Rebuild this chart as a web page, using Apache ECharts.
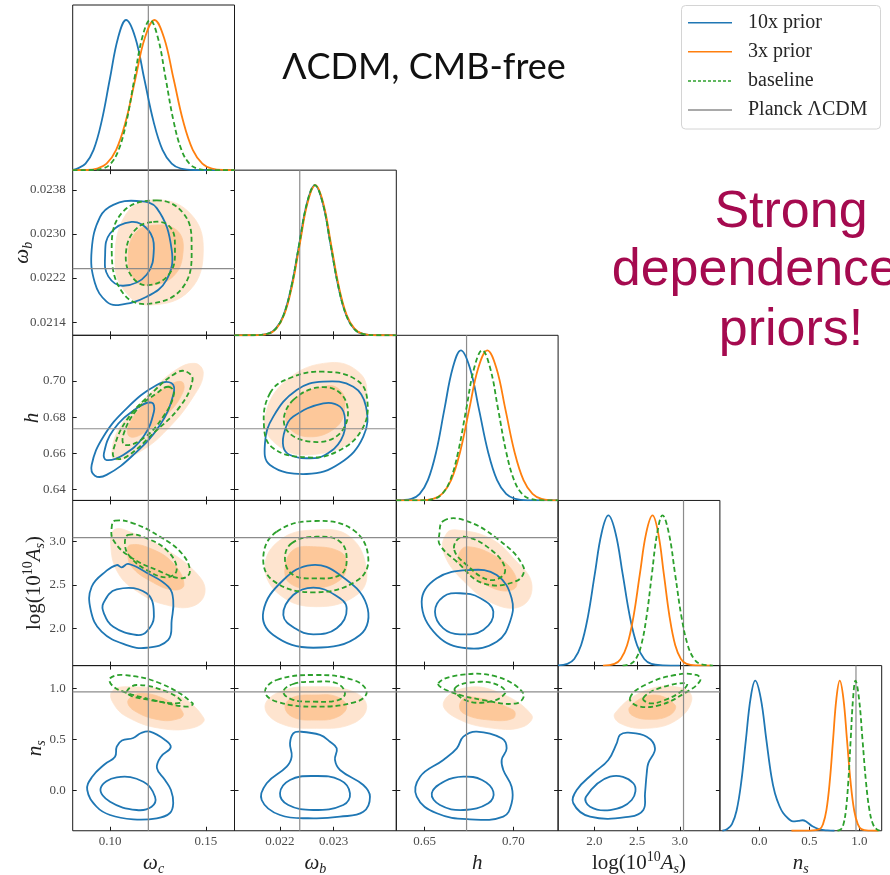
<!DOCTYPE html>
<html>
<head>
<meta charset="utf-8">
<script src="https://cdn.jsdelivr.net/npm/echarts@6/dist/echarts.min.js"></script>
<style>
  html, body { margin: 0; padding: 0; background: #ffffff; }
  #chart { width: 890px; height: 875px; }
</style>
</head>
<body>
<div id="chart"></div>
<script>
// ---------------- parameters ----------------
const keys = ['wc', 'wb', 'h', 'As', 'ns'];
const ranges = { wc: [0.0805, 0.165], wb: [0.02116, 0.02416], h: [0.634, 0.7252], As: [1.575, 3.47], ns: [-0.395, 1.222] };
const xTicks = { wc: [0.10, 0.15], wb: [0.022, 0.023], h: [0.65, 0.70], As: [2.0, 2.5, 3.0], ns: [0.0, 0.5, 1.0] };
const yTicks = { wb: [0.0214, 0.0222, 0.0230, 0.0238], h: [0.64, 0.66, 0.68, 0.70], As: [2.0, 2.5, 3.0], ns: [0.0, 0.5, 1.0] };
const xDecimals = { wc: 2, wb: 3, h: 2, As: 1, ns: 1 };
const yDecimals = { wb: 4, h: 2, As: 1, ns: 1 };
const planck = { wc: 0.1200, wb: 0.02237, h: 0.6736, As: 3.044, ns: 0.9649 };
const legendLabels = ['10x prior', '3x prior', 'baseline', 'Planck \u039BCDM'];

// ---------------- 1D marginals [value, normalised density] ----------------
const wc10x = [[0.0805,0.001],[0.0829,0.011],[0.0872,0.044],[0.0914,0.135],[0.0956,0.325],[0.0999,0.607],[0.1042,0.882],[0.1084,1],[0.1132,0.882],[0.1179,0.607],[0.1227,0.325],[0.1274,0.135],[0.1322,0.044],[0.1369,0.011],[0.1445,0.001],[0.165,0]];
const wc3x = [[0.0805,0],[0.0880,0.001],[0.0932,0.011],[0.0982,0.044],[0.1032,0.135],[0.1082,0.325],[0.1132,0.607],[0.1182,0.882],[0.1232,1],[0.1282,0.882],[0.1332,0.607],[0.1382,0.325],[0.1432,0.135],[0.1482,0.044],[0.1532,0.011],[0.1600,0.001],[0.165,0]];
const wcBase = [[0.0805,0],[0.0900,0.001],[0.0963,0.011],[0.1004,0.044],[0.1045,0.135],[0.1086,0.325],[0.1127,0.607],[0.1168,0.882],[0.1209,1],[0.1250,0.882],[0.1291,0.607],[0.1332,0.325],[0.1373,0.135],[0.1414,0.044],[0.1455,0.011],[0.1510,0.001],[0.165,0]];

const wb10x = [[0.02116,0],[0.02149,0.0004],[0.02178,0.011],[0.021925,0.044],[0.02207,0.135],[0.022215,0.325],[0.02236,0.607],[0.022505,0.882],[0.02265,1],[0.022795,0.882],[0.02294,0.607],[0.023085,0.325],[0.02323,0.135],[0.023375,0.044],[0.02352,0.011],[0.02381,0.0004],[0.02416,0]];
const wb3x = [[0.02116,0],[0.02150,0.0004],[0.02179,0.011],[0.021935,0.044],[0.02208,0.135],[0.022225,0.325],[0.02237,0.607],[0.022515,0.882],[0.02266,1],[0.022805,0.882],[0.02295,0.607],[0.023095,0.325],[0.02324,0.135],[0.023385,0.044],[0.02353,0.011],[0.02382,0.0004],[0.02416,0]];
const wbBase = [[0.02116,0],[0.02149,0.0004],[0.02178,0.011],[0.021925,0.044],[0.02207,0.135],[0.022215,0.325],[0.02236,0.607],[0.022505,0.882],[0.02265,1],[0.022795,0.882],[0.02294,0.607],[0.023085,0.325],[0.02323,0.135],[0.023375,0.044],[0.02352,0.011],[0.02381,0.0004],[0.02416,0]];

const h10x = [[0.634,0.001],[0.6425,0.011],[0.6472,0.044],[0.6518,0.135],[0.6565,0.325],[0.6611,0.607],[0.6658,0.882],[0.6704,1],[0.6755,0.882],[0.6806,0.607],[0.6857,0.325],[0.6908,0.135],[0.6959,0.044],[0.7010,0.011],[0.7080,0.001],[0.7252,0]];
const h3x = [[0.634,0],[0.6470,0.001],[0.6547,0.011],[0.6598,0.044],[0.6649,0.135],[0.6700,0.325],[0.6751,0.607],[0.6802,0.882],[0.6853,1],[0.6904,0.882],[0.6955,0.607],[0.7006,0.325],[0.7057,0.135],[0.7108,0.044],[0.7159,0.011],[0.7252,0.0005]];
const hBase = [[0.634,0],[0.6480,0.001],[0.6554,0.011],[0.6599,0.044],[0.6644,0.135],[0.6689,0.325],[0.6734,0.607],[0.6779,0.882],[0.6824,1],[0.6869,0.882],[0.6914,0.607],[0.6959,0.325],[0.7004,0.135],[0.7049,0.044],[0.7094,0.011],[0.7170,0.001],[0.7252,0]];

const As10x = [[1.575,0.001],[1.684,0.011],[1.764,0.044],[1.844,0.135],[1.924,0.325],[2.004,0.607],[2.084,0.882],[2.164,1],[2.248,0.882],[2.332,0.607],[2.416,0.325],[2.500,0.135],[2.584,0.044],[2.668,0.011],[2.80,0.002],[3.0,0]];
const As3x = [[2.10,0],[2.234,0.011],[2.3085,0.044],[2.383,0.135],[2.4575,0.325],[2.532,0.607],[2.6065,0.882],[2.681,1],[2.7475,0.882],[2.814,0.607],[2.8805,0.325],[2.947,0.135],[3.0135,0.044],[3.080,0.011],[3.20,0.001],[3.37,0]];
const AsBase = [[2.33,0],[2.423,0.011],[2.4855,0.044],[2.548,0.135],[2.6105,0.325],[2.673,0.607],[2.7355,0.882],[2.798,1],[2.872,0.882],[2.946,0.607],[3.020,0.325],[3.094,0.135],[3.168,0.044],[3.242,0.011],[3.39,0]];

const ns10x = [[-0.37,0],[-0.321,0.011],[-0.2745,0.044],[-0.228,0.135],[-0.1815,0.325],[-0.135,0.607],[-0.0885,0.882],[-0.042,1],[0.0135,0.882],[0.069,0.607],[0.12,0.36],[0.155,0.25],[0.20,0.165],[0.237,0.118],[0.29,0.08],[0.335,0.062],[0.39,0.066],[0.43,0.07],[0.47,0.06],[0.53,0.03],[0.60,0.01],[0.68,0.002],[0.75,0]];
const ns3x = [[0.32,0],[0.50,0.001],[0.602,0.011],[0.6355,0.044],[0.669,0.135],[0.7025,0.325],[0.736,0.607],[0.7695,0.882],[0.803,1],[0.839,0.882],[0.875,0.607],[0.911,0.325],[0.947,0.135],[0.983,0.044],[1.019,0.011],[1.10,0.001],[1.19,0]];
const nsBase = [[0.78,0],[0.816,0.011],[0.840,0.044],[0.864,0.135],[0.888,0.325],[0.912,0.607],[0.936,0.882],[0.960,1],[0.995,0.882],[1.030,0.607],[1.065,0.325],[1.100,0.135],[1.135,0.044],[1.170,0.011],[1.20,0.002]];

// ---------------- 2D contours: [outer (95%), inner (68%)] outlines ----------------
const wcWb10x = [
  [[0.1139,0.02360],[0.1244,0.02347],[0.1322,0.02271],[0.1296,0.02217],[0.1191,0.02186],[0.1043,0.02171],[0.0982,0.02177],[0.0921,0.02211],[0.0904,0.02271],[0.0948,0.02331],[0.1017,0.02353]],
  [[0.1113,0.02322],[0.1200,0.02307],[0.1229,0.02274],[0.1191,0.02226],[0.1069,0.02206],[0.0991,0.02223],[0.0974,0.02259],[0.1000,0.02301]]
];
const wcWb3x = [
  [[0.1244,0.02362],[0.1417,0.02338],[0.1487,0.02274],[0.1417,0.02198],[0.1209,0.02171],[0.1087,0.02192],[0.1026,0.02247],[0.1087,0.02338]],
  [[0.1226,0.02316],[0.1348,0.02307],[0.1382,0.02271],[0.1330,0.02223],[0.1191,0.02207],[0.1121,0.02220],[0.1095,0.02259],[0.1130,0.02301]]
];
const wcWbBase = [
  [[0.1244,0.02361],[0.1382,0.02338],[0.1426,0.02283],[0.1382,0.02204],[0.1200,0.02173],[0.1069,0.02192],[0.1009,0.02265],[0.1061,0.02338]],
  [[0.1226,0.02322],[0.1313,0.02313],[0.1339,0.02277],[0.1313,0.02229],[0.1200,0.02207],[0.1113,0.02223],[0.1083,0.02265],[0.1130,0.02307]]
];

const wcH10x = [
  [[0.1322,0.6987],[0.1330,0.6922],[0.1261,0.6757],[0.1121,0.6591],[0.0982,0.6481],[0.0921,0.6477],[0.0904,0.6536],[0.0965,0.6692],[0.1087,0.6849],[0.1244,0.6978]],
  [[0.1217,0.6880],[0.1229,0.6830],[0.1174,0.6692],[0.1069,0.6591],[0.0982,0.6563],[0.0968,0.6600],[0.1017,0.6729],[0.1139,0.6849]]
];
const wcH3x = [
  [[0.1443,0.7097],[0.1487,0.7042],[0.1435,0.6913],[0.1296,0.6729],[0.1156,0.6609],[0.1035,0.6563],[0.1009,0.6600],[0.1052,0.6747],[0.1191,0.6913],[0.1330,0.7051]],
  [[0.1374,0.6996],[0.1382,0.6941],[0.1296,0.6812],[0.1174,0.6711],[0.1104,0.6692],[0.1095,0.6747],[0.1174,0.6867],[0.1296,0.6968]]
];
const wcHBase = [
  [[0.1400,0.7051],[0.1431,0.7005],[0.1365,0.6858],[0.1226,0.6711],[0.1087,0.6582],[0.1026,0.6573],[0.1017,0.6619],[0.1087,0.6784],[0.1226,0.6941],[0.1348,0.7046]],
  [[0.1304,0.6968],[0.1334,0.6932],[0.1278,0.6803],[0.1174,0.6683],[0.1078,0.6646],[0.1069,0.6701],[0.1139,0.6840],[0.1244,0.6932]]
];

const wcAs10x = [
  [[0.1095,2.741],[0.1191,2.641],[0.1304,2.480],[0.1330,2.328],[0.1322,2.098],[0.1304,1.869],[0.1191,1.780],[0.1087,1.811],[0.0956,1.964],[0.0899,2.213],[0.0904,2.480],[0.0982,2.664],[0.1035,2.729],[0.1061,2.703]],
  [[0.0965,2.290],[0.1035,2.450],[0.1191,2.405],[0.1229,2.136],[0.1191,1.964],[0.1139,1.926],[0.1017,2.021],[0.0968,2.175]]
];
const wcAs3x = [
  [[0.1026,3.139],[0.1121,3.093],[0.1296,2.902],[0.1452,2.634],[0.1496,2.423],[0.1435,2.259],[0.1296,2.270],[0.1156,2.405],[0.1043,2.634],[0.1003,2.978]],
  [[0.1104,2.959],[0.1209,2.921],[0.1330,2.749],[0.1386,2.500],[0.1330,2.443],[0.1209,2.548],[0.1113,2.710],[0.1092,2.864]]
];
const wcAsBase = [
  [[0.1026,3.238],[0.1121,3.208],[0.1261,3.054],[0.1374,2.864],[0.1417,2.653],[0.1374,2.577],[0.1244,2.672],[0.1104,2.825],[0.1017,3.016],[0.1009,3.169]],
  [[0.1095,3.074],[0.1191,3.036],[0.1304,2.882],[0.1348,2.672],[0.1296,2.588],[0.1191,2.672],[0.1104,2.825],[0.1078,2.959]]
];

const wcNs10x = [
  [[0.1209,0.575],[0.1287,0.494],[0.1317,0.422],[0.1266,0.330],[0.1245,0.219],[0.1287,0.102],[0.1318,0.004],[0.1330,-0.123],[0.1313,-0.221],[0.1244,-0.273],[0.1121,-0.283],[0.1000,-0.241],[0.0930,-0.160],[0.0881,0.004],[0.0906,0.131],[0.0974,0.259],[0.1026,0.330],[0.1035,0.428],[0.1062,0.489],[0.1121,0.513],[0.1162,0.562]],
  [[0.0951,0.021],[0.1035,0.128],[0.1174,0.085],[0.1235,-0.062],[0.1217,-0.160],[0.1139,-0.192],[0.1000,-0.111]]
];
const wcNs3x = [
  [[0.1009,0.967],[0.1087,1.015],[0.1330,0.951],[0.1490,0.706],[0.1435,0.614],[0.1261,0.608],[0.1087,0.722],[0.1017,0.853]],
  [[0.1095,0.885],[0.1174,0.951],[0.1330,0.853],[0.1382,0.755],[0.1365,0.706],[0.1261,0.689],[0.1121,0.787]]
];
const wcNsBase = [
  [[0.1000,1.098],[0.1069,1.130],[0.1261,1.049],[0.1431,0.853],[0.1400,0.820],[0.1226,0.885],[0.1069,0.967],[0.1009,1.032]],
  [[0.1087,0.967],[0.1139,1.032],[0.1296,0.967],[0.1374,0.869],[0.1330,0.853],[0.1209,0.885],[0.1113,0.924]]
];

const wbH10x = [
  [[0.022313,0.6950],[0.022806,0.6996],[0.023363,0.6968],[0.023598,0.6858],[0.023548,0.6692],[0.023116,0.6545],[0.022499,0.6486],[0.021818,0.6536],[0.021725,0.6656],[0.021879,0.6803]],
  [[0.02225,0.6803],[0.022806,0.6876],[0.023116,0.6858],[0.023209,0.6784],[0.023135,0.6674],[0.022838,0.6591],[0.02256,0.6573],[0.022189,0.6591],[0.022065,0.6637],[0.022096,0.6729]]
];
const wbH3x = [
  [[0.022931,0.7101],[0.023487,0.7042],[0.023611,0.6913],[0.023426,0.6692],[0.022499,0.6591],[0.021879,0.6665],[0.021725,0.6803],[0.022128,0.7005]],
  [[0.02225,0.6895],[0.022869,0.6972],[0.023116,0.6950],[0.023209,0.6876],[0.023055,0.6747],[0.022499,0.6692],[0.022128,0.6766]]
];
const wbHBase = [
  [[0.021818,0.6932],[0.022189,0.7016],[0.022806,0.7051],[0.023426,0.7005],[0.023622,0.6895],[0.023518,0.6729],[0.023055,0.6609],[0.022499,0.6578],[0.021879,0.6628],[0.021707,0.6747]],
  [[0.02225,0.6895],[0.022869,0.6965],[0.02324,0.6876],[0.023116,0.6711],[0.02256,0.6665],[0.022096,0.6747]]
];

const wbAs10x = [
  [[0.022065,2.557],[0.022591,2.729],[0.023116,2.615],[0.023611,2.270],[0.023487,1.926],[0.022621,1.780],[0.021879,1.926],[0.021694,2.194]],
  [[0.02225,2.385],[0.022621,2.469],[0.023023,2.385],[0.02324,2.233],[0.023055,2.003],[0.022621,1.934],[0.022282,2.003],[0.022065,2.156]]
];
const wbAs3x = [
  [[0.022004,3.016],[0.022621,3.131],[0.023301,3.054],[0.023611,2.653],[0.023426,2.385],[0.022684,2.251],[0.022004,2.385],[0.021725,2.710]],
  [[0.02225,2.902],[0.022621,2.939],[0.023116,2.882],[0.02324,2.749],[0.023116,2.557],[0.022621,2.462],[0.022189,2.519],[0.022096,2.692]]
];
const wbAsBase = [
  [[0.021942,3.111],[0.022652,3.234],[0.023363,3.131],[0.023641,2.806],[0.023426,2.548],[0.022621,2.416],[0.021879,2.548],[0.021694,2.825]],
  [[0.02222,2.978],[0.022684,3.054],[0.023116,2.997],[0.02324,2.787],[0.023116,2.615],[0.022621,2.577],[0.02225,2.615],[0.022096,2.787]]
];

const wbNs10x = [
  [[0.022374,0.575],[0.022745,0.543],[0.022931,0.477],[0.023055,0.412],[0.023023,0.298],[0.023116,0.200],[0.023548,0.053],[0.023672,-0.062],[0.023548,-0.209],[0.023116,-0.257],[0.022621,-0.273],[0.022004,-0.241],[0.021664,-0.094],[0.021757,0.070],[0.022128,0.232],[0.02222,0.330],[0.022189,0.461],[0.02225,0.559]],
  [[0.022189,0.102],[0.022621,0.141],[0.023116,0.102],[0.023301,-0.028],[0.023177,-0.143],[0.022621,-0.192],[0.022157,-0.143],[0.022004,-0.028]]
];
const wbNs3x = [
  [[0.022004,0.967],[0.022652,1.015],[0.023363,0.967],[0.023611,0.820],[0.023363,0.657],[0.022684,0.608],[0.022004,0.657],[0.021725,0.820]],
  [[0.02225,0.912],[0.022652,0.934],[0.023055,0.918],[0.02324,0.820],[0.023055,0.716],[0.022652,0.689],[0.02225,0.716],[0.022096,0.820]]
];
const wbNsBase = [
  [[0.021942,1.081],[0.022652,1.130],[0.023363,1.081],[0.023611,0.967],[0.023426,0.869],[0.022652,0.820],[0.021942,0.869],[0.021725,0.967]],
  [[0.02225,1.042],[0.022652,1.064],[0.023055,1.049],[0.023209,0.951],[0.023084,0.885],[0.022621,0.869],[0.02222,0.892],[0.022065,0.967]]
];

const hAs10x = [
  [[0.6755,2.672],[0.6906,2.615],[0.6990,2.347],[0.6981,2.079],[0.6906,1.849],[0.6737,1.774],[0.6568,1.926],[0.6483,2.308],[0.6568,2.577]],
  [[0.6605,2.366],[0.6699,2.405],[0.6812,2.351],[0.6887,2.194],[0.6830,1.984],[0.6699,1.934],[0.6605,2.003],[0.6558,2.194]]
];
const hAs3x = [
  [[0.6681,3.131],[0.6868,3.036],[0.7009,2.787],[0.7103,2.519],[0.7056,2.270],[0.6906,2.270],[0.6718,2.548],[0.6605,2.882],[0.6624,3.093]],
  [[0.6699,2.882],[0.6746,2.939],[0.6887,2.844],[0.6999,2.653],[0.7009,2.462],[0.6887,2.462],[0.6699,2.729]]
];
const hAsBase = [
  [[0.6605,3.234],[0.6718,3.246],[0.6906,3.036],[0.7056,2.710],[0.7019,2.548],[0.6830,2.519],[0.6681,2.767],[0.6586,2.959],[0.6582,3.074]],
  [[0.6665,2.921],[0.6718,3.054],[0.6887,2.882],[0.6953,2.653],[0.6868,2.557],[0.6737,2.729]]
];

const hNs10x = [
  [[0.6793,0.575],[0.6934,0.510],[0.6962,0.412],[0.6934,0.298],[0.6943,0.200],[0.6990,0.036],[0.6990,-0.126],[0.6943,-0.257],[0.6755,-0.283],[0.6568,-0.224],[0.6455,-0.062],[0.6474,0.134],[0.6605,0.298],[0.6681,0.412],[0.6718,0.526]],
  [[0.6540,-0.028],[0.6615,0.092],[0.6718,0.134],[0.6823,0.102],[0.6887,-0.013],[0.6859,-0.126],[0.6718,-0.192],[0.6586,-0.143]]
];
const hNs3x = [
  [[0.6605,0.853],[0.6718,1.000],[0.6906,0.967],[0.7103,0.738],[0.7056,0.624],[0.6887,0.608],[0.6681,0.706]],
  [[0.6699,0.853],[0.6755,0.918],[0.6999,0.787],[0.6999,0.706],[0.6868,0.689],[0.6718,0.755]]
];
const hNsBase = [
  [[0.6577,1.049],[0.6699,1.130],[0.6906,1.113],[0.7056,0.951],[0.7019,0.853],[0.6830,0.885],[0.6643,0.967]],
  [[0.6671,1.003],[0.6812,1.064],[0.6925,1.022],[0.6953,0.951],[0.6868,0.869],[0.6727,0.885]]
];

const AsNs10x = [
  [[2.397,0.565],[2.613,0.526],[2.710,0.412],[2.631,0.265],[2.613,0.168],[2.593,-0.028],[2.573,-0.192],[2.417,-0.257],[1.949,-0.257],[1.753,-0.126],[1.793,0.004],[1.987,0.168],[2.163,0.298],[2.261,0.461],[2.300,0.543]],
  [[1.902,-0.062],[2.183,0.134],[2.456,0.070],[2.437,-0.094],[2.183,-0.192],[1.949,-0.160]]
];
const AsNs3x = [
  [[2.241,0.755],[2.613,0.983],[3.041,1.000],[3.140,0.885],[2.964,0.689],[2.613,0.608],[2.300,0.657]],
  [[2.417,0.820],[2.690,0.934],[2.944,0.836],[2.886,0.738],[2.651,0.696],[2.437,0.738]]
];
const AsNsBase = [
  [[2.417,0.905],[2.593,1.032],[2.944,1.130],[3.198,1.130],[3.237,1.071],[3.061,0.954],[2.768,0.836],[2.511,0.826]],
  [[2.573,0.905],[2.768,1.003],[3.081,1.049],[3.038,0.983],[2.827,0.885],[2.651,0.853]]
];

// ---------------- styling ----------------
const BLUE = '#1f77b4', ORANGE = '#ff7f0e', GREEN = '#2ca02c', GRAY = '#8c8c8c';
const ORANGE_OUT = '#fee4cf', ORANGE_IN = '#fdc89a';
const DASH = [5, 3];
const SERIF = 'Liberation Serif';

const marginals = [
  [wc10x, wc3x, wcBase], [wb10x, wb3x, wbBase], [h10x, h3x, hBase], [As10x, As3x, AsBase], [ns10x, ns3x, nsBase]
];
const contourSets = {
  '1,0': [wcWb10x, wcWb3x, wcWbBase],
  '2,0': [wcH10x, wcH3x, wcHBase],
  '2,1': [wbH10x, wbH3x, wbHBase],
  '3,0': [wcAs10x, wcAs3x, wcAsBase],
  '3,1': [wbAs10x, wbAs3x, wbAsBase],
  '3,2': [hAs10x, hAs3x, hAsBase],
  '4,0': [wcNs10x, wcNs3x, wcNsBase],
  '4,1': [wbNs10x, wbNs3x, wbNsBase],
  '4,2': [hNs10x, hNs3x, hNsBase],
  '4,3': [AsNs10x, AsNs3x, AsNsBase]
};

const axisNames = {
  wc: '{i|\u03C9}{s|c}',
  wb: '{i|\u03C9}{s|b}',
  h: '{i|h}',
  As: '{r|log(10}{p|10}{i|A}{s|s}{r|)}',
  ns: '{i|n}{s|s}'
};
const nameRich = {
  i: { fontFamily: SERIF, fontStyle: 'italic', fontSize: 21, color: '#222', lineHeight: 26 },
  r: { fontFamily: SERIF, fontSize: 21, color: '#222', lineHeight: 26 },
  s: { fontFamily: SERIF, fontStyle: 'italic', fontSize: 14, color: '#222', lineHeight: 14, verticalAlign: 'bottom' },
  p: { fontFamily: SERIF, fontSize: 14, color: '#222', lineHeight: 14, verticalAlign: 'top' }
};
const yNameGap = { wb: 37, h: 27, As: 25, ns: 24 };

// panel layout
const L0 = 72.7, CW = 161.8, T0 = 5, RH = 165.15;
const tickLine = { color: '#1a1a1a', width: 1 };
const labelFont = { fontFamily: SERIF, fontSize: 13, color: '#4a4a4a' };

const grid = [], xAxis = [], yAxis = [], series = [];

function valueAxis(extra) {
  return Object.assign({
    type: 'value',
    splitLine: { show: false },
    axisLine: { show: false, onZero: false },
    nameMoveOverlap: false
  }, extra);
}

function contourSeries(xi, yi, sets) {
  const [b, o, g] = sets;
  const shapes = [
    { pts: o[0], style: { fill: ORANGE_OUT, stroke: ORANGE_OUT, lineWidth: 0.8 } },
    { pts: o[1], style: { fill: ORANGE_IN, stroke: ORANGE_IN, lineWidth: 0.8 } },
    { pts: b[0], style: { fill: 'none', stroke: BLUE, lineWidth: 1.8 } },
    { pts: b[1], style: { fill: 'none', stroke: BLUE, lineWidth: 1.8 } },
    { pts: g[0], style: { fill: 'none', stroke: GREEN, lineWidth: 1.8, lineDash: DASH } },
    { pts: g[1], style: { fill: 'none', stroke: GREEN, lineWidth: 1.8, lineDash: DASH } }
  ];
  return {
    type: 'custom', xAxisIndex: xi, yAxisIndex: yi, clip: true, silent: true, z: 2,
    data: shapes.map((s, i) => [s.pts[0][0], s.pts[0][1], i]),
    renderItem: function (params, api) {
      const s = shapes[api.value(2)];
      return {
        type: 'polygon',
        shape: { points: s.pts.map(p => api.coord(p)), smooth: 0.42 },
        style: s.style
      };
    }
  };
}

function refLine(xi, yi, data) {
  return { type: 'line', xAxisIndex: xi, yAxisIndex: yi, data: data, symbol: 'none', silent: true, z: 3,
           lineStyle: { color: GRAY, width: 1.2 } };
}

for (let r = 0; r < 5; r++) {
  for (let c = 0; c <= r; c++) {
    const gi = grid.length;
    grid.push({ left: L0 + c * CW, top: T0 + r * RH, width: CW, height: RH, show: true,
                borderColor: '#1a1a1a', borderWidth: 1, backgroundColor: 'rgba(0,0,0,0)',
                containLabel: false, outerBoundsMode: 'none' });
    const kx = keys[c];
    const xr = ranges[kx];
    const xi = xAxis.length;
    xAxis.push(valueAxis({
      gridIndex: gi, position: 'bottom', min: xr[0], max: xr[1],
      axisTick: { show: true, inside: true, length: 4, customValues: xTicks[kx], lineStyle: tickLine },
      axisLabel: Object.assign({ show: r === 4, customValues: xTicks[kx], margin: 4,
                                 formatter: v => Number(v).toFixed(xDecimals[kx]) }, labelFont),
      name: r === 4 ? axisNames[kx] : '', nameLocation: 'middle', nameGap: 20,
      nameTextStyle: { rich: nameRich }
    }));

    if (r === c) {
      // 1D marginal panel
      const yi = yAxis.length;
      yAxis.push(valueAxis({ gridIndex: gi, min: 0, max: 1.1, show: false }));
      series.push(Object.assign(refLine(xi, yi, [[planck[kx], 0], [planck[kx], 1.1]]), { z: 2 }));
      const [b, o, g] = marginals[c];
      [[b, BLUE, 'solid'], [o, ORANGE, 'solid'], [g, GREEN, DASH]].forEach(([d, col, type]) => {
        series.push({ type: 'line', xAxisIndex: xi, yAxisIndex: yi, data: d, smooth: 0.4, symbol: 'none',
                      silent: true, clip: true, z: 2, lineStyle: { color: col, width: 1.8, type: type } });
      });
    } else {
      const ky = keys[r];
      const yr = ranges[ky];
      xAxis.push(valueAxis({
        gridIndex: gi, position: 'top', min: xr[0], max: xr[1],
        axisTick: { show: true, inside: true, length: 4, customValues: xTicks[kx], lineStyle: tickLine },
        axisLabel: { show: false }
      }));
      const yi = yAxis.length;
      yAxis.push(valueAxis({
        gridIndex: gi, position: 'left', min: yr[0], max: yr[1],
        axisTick: { show: true, inside: true, length: 4, customValues: yTicks[ky], lineStyle: tickLine },
        axisLabel: Object.assign({ show: c === 0, customValues: yTicks[ky], margin: 7,
                                   formatter: v => Number(v).toFixed(yDecimals[ky]) }, labelFont),
        name: c === 0 ? axisNames[ky] : '', nameLocation: 'middle', nameRotate: 90, nameGap: yNameGap[ky],
        nameTextStyle: { rich: nameRich }
      }));
      yAxis.push(valueAxis({
        gridIndex: gi, position: 'right', min: yr[0], max: yr[1],
        axisTick: { show: true, inside: true, length: 4, customValues: yTicks[ky], lineStyle: tickLine },
        axisLabel: { show: false }
      }));
      series.push(contourSeries(xi, yi, contourSets[r + ',' + c]));
      series.push(refLine(xi, yi, [[planck[kx], yr[0]], [planck[kx], yr[1]]]));
      series.push(refLine(xi, yi, [[xr[0], planck[ky]], [xr[1], planck[ky]]]));
    }
  }
}

// legend drawn as a framed key
const legendColors = [BLUE, ORANGE, GREEN, GRAY];
const legendRows = [22.7, 51.7, 81, 110];
const graphic = [
  { type: 'rect', z: 100, shape: { x: 681.5, y: 5.5, width: 199, height: 123.5, r: 4 },
    style: { fill: '#ffffff', stroke: '#d4d4d4', lineWidth: 1 } }
];
legendLabels.forEach((t, i) => {
  graphic.push({ type: 'line', z: 101, shape: { x1: 688, y1: legendRows[i], x2: 732, y2: legendRows[i] },
                 style: { stroke: legendColors[i], lineWidth: 1.5, lineDash: i === 2 ? [3, 2] : null } });
  graphic.push({ type: 'text', z: 101, x: 748, y: legendRows[i],
                 style: { text: t, font: '20px "Liberation Serif"', fill: '#262626',
                          align: 'left', verticalAlign: 'middle', textAlign: 'left', textVerticalAlign: 'middle' } });
});
graphic.push({ type: 'text', z: 101, x: 424, y: 67,
               style: { text: '\u039BCDM, CMB-free', font: '36px Lato', fill: '#111111',
                        align: 'center', verticalAlign: 'middle', textAlign: 'center', textVerticalAlign: 'middle' } });
[['Strong', 213], ['dependence on', 271], ['priors!', 331]].forEach(([t, y]) => {
  graphic.push({ type: 'text', z: 101, x: 791, y: y,
                 style: { text: t, font: '52px "Liberation Sans"', fill: '#a50a4f',
                          align: 'center', verticalAlign: 'middle', textAlign: 'center', textVerticalAlign: 'middle' } });
});

const chart = echarts.init(document.getElementById('chart'), null, { renderer: 'canvas' });
chart.setOption({
  animation: false,
  backgroundColor: '#ffffff',
  grid: grid,
  xAxis: xAxis,
  yAxis: yAxis,
  series: series,
  graphic: graphic
});
</script>
</body>
</html>
